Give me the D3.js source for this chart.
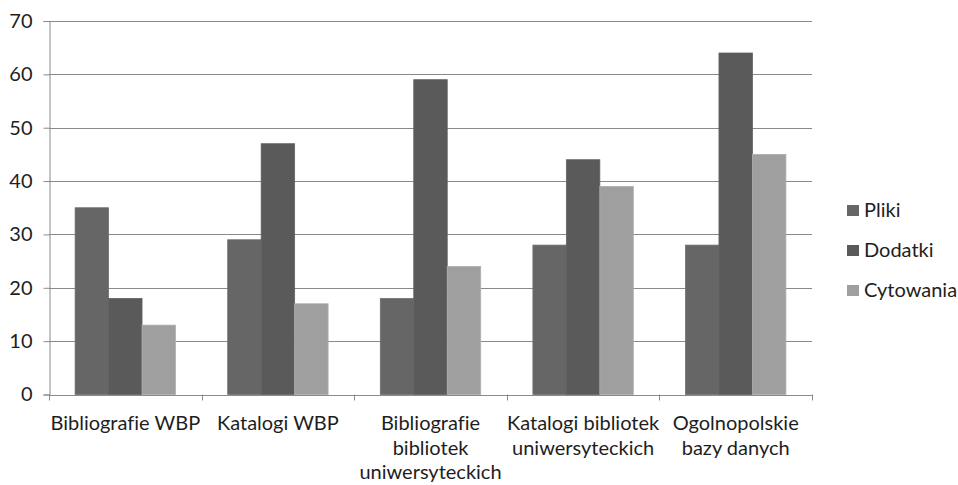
<!DOCTYPE html>
<html>
<head>
<meta charset="utf-8">
<script src="https://cdn.jsdelivr.net/npm/d3@7"></script>
<style>
  html, body { margin: 0; padding: 0; background: #fff; }
  svg { display: block; }
  text { font-family: Lato, "Open Sans", sans-serif; fill: #1e1e1e; font-variant-ligatures: none; }
</style>
</head>
<body>
<svg id="chart" width="958" height="485"></svg>
<script>
const categories = [
  "Bibliografie WBP",
  "Katalogi WBP",
  "Bibliografie\nbibliotek\nuniwersyteckich",
  "Katalogi bibliotek\nuniwersyteckich",
  "Ogolnopolskie\nbazy danych"
];
const seriesNames = ["Pliki", "Dodatki", "Cytowania"];
const pliki = [35, 29, 18, 28, 28];
const dodatki = [18, 47, 59, 44, 64];
const cytowania = [13, 17, 24, 39, 45];
const yTicks = [0, 10, 20, 30, 40, 50, 60, 70];

const seriesValues = [pliki, dodatki, cytowania];
const colors = ["#666666", "#5a5a5a", "#9f9f9f"];
const fontSize = 20;

const svg = d3.select("#chart");
const plotLeft = 49, plotRight = 812, plotTop = 21, plotBottom = 394.5;

const x = d3.scaleBand().domain(categories).range([plotLeft, plotRight]).paddingInner(0).paddingOuter(0);
const inner = d3.scaleBand().domain(seriesNames).range([0, x.bandwidth()]).paddingInner(0).paddingOuter(0.78);
const y = d3.scaleLinear().domain([0, 70]).range([plotBottom, plotTop]);

// gridlines
svg.append("g").selectAll("line").data(yTicks.filter(d => d > 0)).join("line")
  .attr("x1", plotLeft).attr("x2", plotRight)
  .attr("y1", d => Math.round(y(d)) + 0.5).attr("y2", d => Math.round(y(d)) + 0.5)
  .attr("stroke", "#8a8a8a").attr("stroke-width", 1);

// bars
const groups = svg.append("g").selectAll("g").data(categories).join("g")
  .attr("transform", d => `translate(${x(d)},0)`);
groups.selectAll("rect").data((c, i) => seriesNames.map((s, j) => ({ s, v: seriesValues[j][i], j })))
  .join("rect")
  .attr("x", d => inner(d.s))
  .attr("width", inner.bandwidth())
  .attr("y", d => y(d.v))
  .attr("height", d => y(0) - y(d.v))
  .attr("fill", d => colors[d.j])
  .attr("stroke", d => d3.color(colors[d.j]).brighter(0.25))
  .attr("stroke-width", 0.8);

// y axis
const yAxis = d3.axisLeft(y).tickValues(yTicks).tickSize(6).tickPadding(11);
const yg = svg.append("g").attr("transform", `translate(${plotLeft + 0.5},0)`).call(yAxis);
yg.select(".domain").attr("stroke", "#8a8a8a");
yg.selectAll(".tick line").attr("stroke", "#8a8a8a");
yg.selectAll(".tick text").attr("font-size", fontSize).attr("font-family", "Lato, sans-serif").attr("fill", "#1e1e1e");

// x axis line
svg.append("line").attr("x1", plotLeft).attr("x2", plotRight)
  .attr("y1", Math.round(plotBottom) + 0.5).attr("y2", Math.round(plotBottom) + 0.5)
  .attr("stroke", "#8a8a8a");
// category boundary ticks
const bounds = categories.map(c => x(c)).concat([plotRight]);
svg.append("g").selectAll("line").data(bounds).join("line")
  .attr("x1", d => Math.round(d) + 0.5).attr("x2", d => Math.round(d) + 0.5)
  .attr("y1", plotBottom).attr("y2", plotBottom + 6)
  .attr("stroke", "#8a8a8a");

// category labels
const lbl = svg.append("g").selectAll("text").data(categories).join("text")
  .attr("text-anchor", "middle")
  .attr("font-size", fontSize)
  .attr("x", d => x(d) + x.bandwidth() / 2)
  .attr("y", 430);
lbl.selectAll("tspan").data(d => d.split("\n")).join("tspan")
  .attr("x", function() { return d3.select(this.parentNode).attr("x"); })
  .attr("dy", (d, i) => i === 0 ? 0 : 24.5)
  .text(d => d);

// legend
const leg = svg.append("g").selectAll("g").data(seriesNames).join("g")
  .attr("transform", (d, i) => `translate(847,${205 + i * 40})`);
leg.append("rect").attr("width", 12).attr("height", 11).attr("fill", (d, i) => colors[i]);
leg.append("text").attr("x", 17).attr("y", 12).attr("font-size", 20).text(d => d);
</script>
</body>
</html>
